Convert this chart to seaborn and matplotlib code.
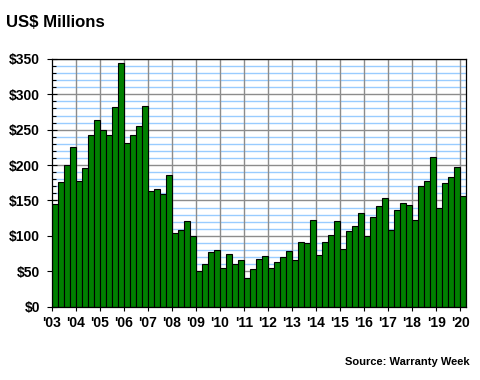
# Warranty claims paid, quarterly, 2003-2020 (US$ millions)
import numpy as np
import pandas as pd
import seaborn as sns
import matplotlib.pyplot as plt
from matplotlib.ticker import MultipleLocator

# Data ---------------------------------------------------------------------
years = list(range(2003, 2021))
year_labels = ["'%02d" % (y % 100) for y in years]

claims = [145, 176, 200, 225,   # 2003
          177, 196, 242, 263,   # 2004
          249, 242, 282, 344,   # 2005
          231, 242, 255, 283,   # 2006
          163, 166, 159, 186,   # 2007
          104, 108, 121, 100,   # 2008
          51, 60, 77, 80,       # 2009
          54, 74, 60, 66,       # 2010
          40, 53, 67, 71,       # 2011
          54, 63, 70, 78,       # 2012
          66, 91, 90, 123,      # 2013
          73, 92, 101, 121,     # 2014
          81, 107, 114, 133,    # 2015
          100, 126, 142, 153,   # 2016
          108, 136, 146, 143,   # 2017
          122, 170, 177, 211,   # 2018
          139, 174, 183, 197,   # 2019
          156]                  # 2020 Q1

quarters = ["%dQ%d" % (y, q) for y in years[:-1] for q in range(1, 5)] + ["2020Q1"]
df = pd.DataFrame({"quarter": quarters, "claims": claims})

y_ticks = list(range(0, 351, 50))
y_labels = ["$%d" % v for v in y_ticks]

# Style ----------------------------------------------------------------------
sns.set_style("white")
plt.rcParams["font.family"] = ["Liberation Sans", "DejaVu Sans"]
plt.rcParams["font.weight"] = "bold"
for key in ["text.color", "xtick.color", "ytick.color", "axes.labelcolor"]:
    plt.rcParams[key] = "black"

fig = plt.figure(figsize=(4.8, 3.8), dpi=100)
ax = fig.add_axes([0.108, 0.193, 0.863, 0.652])

# grid drawn by hand so the tick marks can sit on top of the bars
for v in range(0, 351, 10):
    if v % 50:
        ax.axhline(v, color="#99CCFF", lw=1.0, zorder=0)
for v in y_ticks[1:]:
    ax.axhline(v, color="#8C8C8C", lw=1.0, zorder=0)
for k in range(1, len(years)):
    ax.axvline(4 * k - 0.5, color="#8C8C8C", lw=1.0, zorder=0)

sns.barplot(data=df, x="quarter", y="claims", order=quarters, color="#008000",
            saturation=1, width=1.0, edgecolor="black", linewidth=0.8,
            zorder=1, ax=ax)

ax.set_xlim(-0.5, len(quarters) - 0.5)
ax.set_ylim(0, 350)
ax.set_xticks([4 * k - 0.5 for k in range(len(years))])
ax.set_xticklabels(year_labels, fontsize=10, fontweight="bold")
ax.set_yticks(y_ticks)
ax.set_yticklabels(y_labels, fontsize=10, fontweight="bold")
ax.yaxis.set_minor_locator(MultipleLocator(10))
ax.set_xlabel("")
ax.set_ylabel("")

ax.tick_params(axis="x", direction="out", length=3, width=0.8, pad=4,
               bottom=True, colors="black")
ax.tick_params(axis="y", which="major", direction="inout", length=7,
               width=0.8, pad=5, left=True, colors="black")
ax.tick_params(axis="y", which="minor", direction="in", length=3,
               width=0.8, left=True, colors="black")

for s in ax.spines.values():
    s.set_visible(True)
    s.set_color("black")
    s.set_linewidth(0.9)

fig.text(0.0125, 0.942, "US$ Millions", fontsize=12.1, fontweight="bold",
         ha="left", va="center", color="black")
fig.text(0.979, 0.047, "Source: Warranty Week", fontsize=8,
         fontweight="bold", ha="right", va="center", color="black")

fig.savefig("out.png", dpi=100)
